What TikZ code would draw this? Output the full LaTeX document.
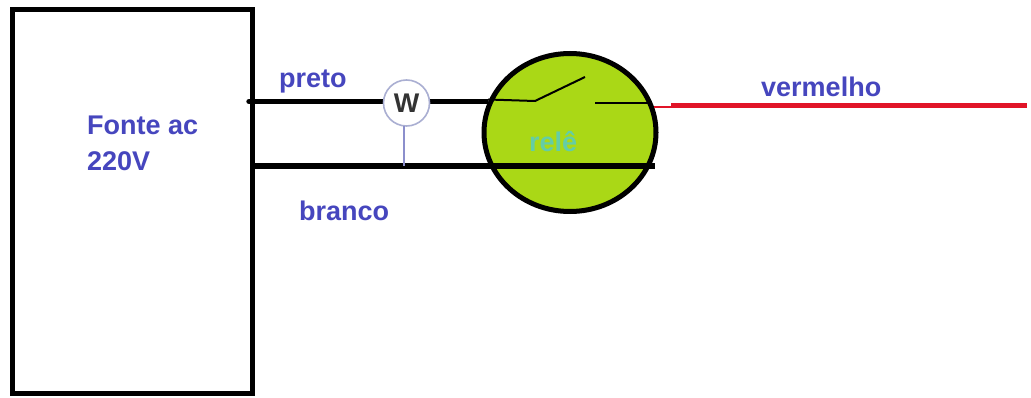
\documentclass[tikz,border=0pt]{standalone}
\usepackage{fontspec}
\setmainfont{Liberation Sans}
\usetikzlibrary{shapes.geometric}
\definecolor{lbl}{RGB}{70,70,190}
\definecolor{relefill}{RGB}{170,216,22}
\definecolor{relelbl}{RGB}{100,205,165}
\definecolor{wedge}{RGB}{170,175,210}
\definecolor{redwire}{RGB}{225,20,40}
\tikzset{
  wire/.style={line width=5.4pt,black},
  contact/.style={line width=2pt,black},
  lab/.style={text=lbl,font=\fontsize{27}{30}\selectfont\bfseries,inner sep=0pt,anchor=west},
}
\begin{document}
\begin{tikzpicture}[x=1pt,y=-1pt,line cap=butt]
\useasboundingbox (0,0) rectangle (1031,398);
\fill[white] (0,0) rectangle (1031,398);
\node[draw=black,line width=5pt,minimum width=240pt,minimum height=383pt,inner sep=0pt,outer sep=0pt] (fonte) at (132.5,201.5) {};
\node[draw=black,line width=5pt,fill=relefill,ellipse,minimum width=172pt,minimum height=158pt,inner sep=0pt,outer sep=0pt] (rele) at (570,132.5) {};
\coordinate (a1) at (249,101.5);
\coordinate (a2) at (488,101.5);
\coordinate (a0) at (488,99.5);
\coordinate (a3) at (535,101);
\coordinate (sw) at (585,77);
\coordinate (c1) at (595,103);
\coordinate (c2) at (650,103);
\coordinate (b1) at (254,166);
\coordinate (b2) at (655,166);
\coordinate (r1) at (654,107);
\coordinate (r0) at (671,107);
\coordinate (r3) at (671,105.5);
\coordinate (r2) at (1027,105.5);
\draw[wire,line cap=round] (a1) -- ++(1,0);
\draw[wire] (a1) -- (a2);
\draw[wire] (b1) -- (b2);
\draw[contact] (a0) -- (a3) -- (sw);
\draw[contact] (c1) -- (c2);
\draw[line width=2.4pt,redwire] (r1) -- (r0);
\draw[line width=5pt,redwire] (r3) -- (r2);
\node[draw=wedge,line width=1.6pt,fill=white,circle,minimum size=46pt,inner sep=0pt,outer sep=0pt,font=\fontsize{27}{30}\selectfont\bfseries,text=black!80] (w) at (406.5,103) {W};
\coordinate (wb) at (404,166);
\draw[draw=wedge!70!lbl,line width=1.6pt] (w.south -| wb) -- (wb);
\node[lab] (t1) at (87,125) {Fonte ac};
\node[lab] (t2) at (87,161) {220V};
\node[lab] (t3) at (279,81) {preto};
\node[lab] (t4) at (299,211) {branco};
\node[lab] (t5) at (761,87) {vermelho};
\node[lab,text=relelbl] (t6) at (529,142) {relê};
\end{tikzpicture}
\end{document}
